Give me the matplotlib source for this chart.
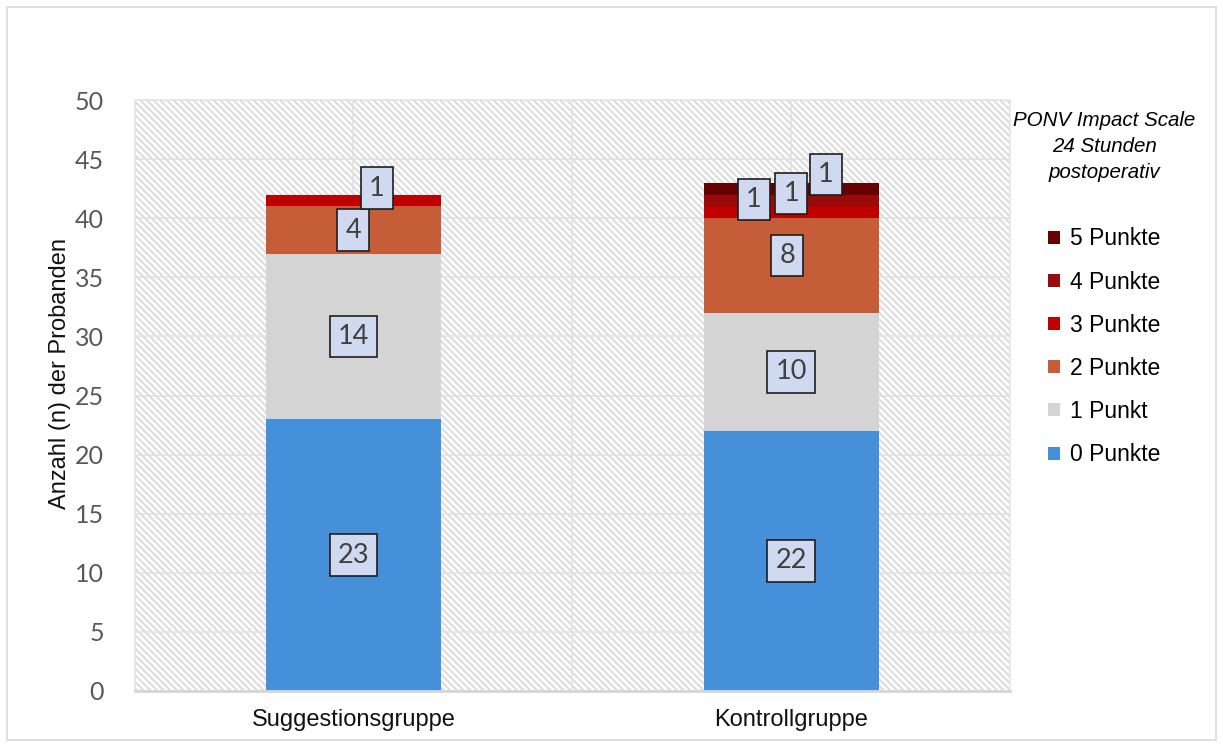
import matplotlib.pyplot as plt
from matplotlib.patches import Rectangle, Patch
import numpy as np

plt.rcParams['hatch.linewidth'] = 1.5

# Daten
gruppen = ['Suggestionsgruppe', 'Kontrollgruppe']
serien = ['0 Punkte', '1 Punkt', '2 Punkte', '3 Punkte', '4 Punkte', '5 Punkte']
werte = {
    '0 Punkte': [23, 22],
    '1 Punkt': [14, 10],
    '2 Punkte': [4, 8],
    '3 Punkte': [1, 1],
    '4 Punkte': [0, 1],
    '5 Punkte': [0, 1],
}
farben = ['#468fd9', '#d4d4d4', '#c55d39', '#c00000', '#990a0a', '#680000']

# Verschiebung einzelner Beschriftungen (Punkte), wie im Original
label_offset = {
    (0, '3 Punkte'): (17, 9),
    (1, '2 Punkte'): (-3, 7),
    (1, '3 Punkte'): (-27, 9),
    (1, '4 Punkte'): (0, 5),
    (1, '5 Punkte'): (25, 10),
}

fig = plt.figure(figsize=(12.23, 7.47), dpi=100)
ax = fig.add_axes([0.110, 0.075, 0.716, 0.791])

# Hintergrund schraffiert
ax.patch.set_facecolor('white')
ax.patch.set_hatch('\\\\\\\\\\')
ax.patch.set_edgecolor('#dcdcdc')
ax.patch.set_linewidth(0)
ax.set_axisbelow(True)

x = np.arange(len(gruppen))
unten = np.zeros(len(gruppen))
for s, c in zip(serien, farben):
    v = np.array(werte[s], dtype=float)
    ax.bar(x, v, 0.4, bottom=unten, color=c, edgecolor='none', zorder=2)
    for i in range(len(gruppen)):
        if v[i] > 0:
            dx, dy = label_offset.get((i, s), (0, 0))
            ax.annotate(str(int(v[i])), (x[i], unten[i] + v[i] / 2),
                        xytext=(dx, dy), textcoords='offset points',
                        ha='center', va='center', fontsize=19.5,
                        family='Lato', color='#404040', zorder=5,
                        bbox=dict(boxstyle='square,pad=0.3',
                                  facecolor='#cfdaf0', edgecolor='#1e1e1e',
                                  linewidth=1.2))
    unten += v

ax.set_xlim(-0.5, 1.5)
ax.set_ylim(0, 50)
ax.set_yticks(range(0, 51, 5))
ax.set_xticks(x)
ax.set_xticklabels(gruppen, fontsize=17, family='Liberation Sans', color='#111111')
ax.tick_params(axis='y', labelsize=18, labelcolor='#595959', length=0, pad=22)
ax.tick_params(axis='x', length=0, pad=13)
for lab in ax.get_yticklabels():
    lab.set_family('Lato')

ax.grid(True, color='#e2e2e2', linewidth=1.2, zorder=0)
ax.axvline(0.5, color='#e2e2e2', linewidth=1.2, zorder=0)
for sp in ax.spines.values():
    sp.set_color('#e4e4e4')
    sp.set_linewidth(1.2)
ax.spines['bottom'].set_color('#d6d6d6')
ax.spines['bottom'].set_linewidth(2)

ax.set_ylabel('Anzahl (n) der Probanden', fontsize=17, family='Liberation Sans',
              color='#111111')
ax.yaxis.set_label_coords(-0.073, 0.537)

handles = [Patch(facecolor=c, edgecolor='none') for c in farben][::-1]
leg = fig.legend(handles, serien[::-1], loc='upper center',
                 bbox_to_anchor=(0.903, 0.879), frameon=False,
                 title='PONV Impact Scale\n24 Stunden\npostoperativ',
                 prop={'family': 'Liberation Sans', 'size': 16.5},
                 handlelength=0.5, handleheight=0.5, handletextpad=0.45,
                 labelspacing=0.88)
leg.get_title().set_fontsize(14.8)
leg.get_title().set_family('Liberation Sans')
leg.get_title().set_style('italic')
leg.get_title().set_multialignment('center')
leg.get_title().set_linespacing(1.45)
leg._legend_box.sep = 33

# Rahmen um das Diagramm
fig.patches.append(Rectangle((0.006, 0.01), 0.988, 0.98, transform=fig.transFigure,
                             fill=False, edgecolor='#dadada', linewidth=1.2))

fig.savefig('out.png', dpi=100)
